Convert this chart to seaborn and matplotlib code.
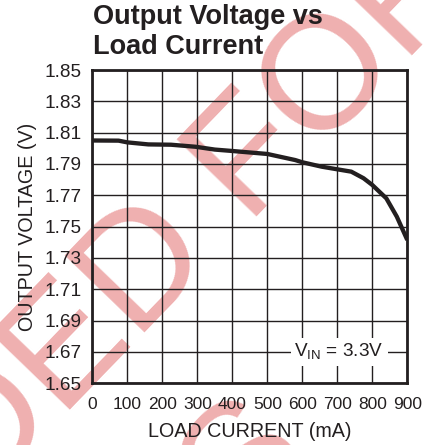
import numpy as np
import pandas as pd
import seaborn as sns
import matplotlib
matplotlib.use("Agg")
import matplotlib.pyplot as plt
from matplotlib.font_manager import FontProperties
from matplotlib.transforms import IdentityTransform

# ---------------- data ----------------
load_current_ma = [0, 75, 100, 160, 225, 295, 350, 400, 500, 580, 600,
                   655, 700, 740, 775, 800, 840, 870, 900]
output_voltage_v = [1.8050, 1.8049, 1.8038, 1.8025, 1.8023, 1.8010, 1.7992,
                    1.7983, 1.7964, 1.7925, 1.7911, 1.7883, 1.7866, 1.7851,
                    1.7809, 1.7766, 1.7681, 1.7564, 1.7415]
x_ticks = [0, 100, 200, 300, 400, 500, 600, 700, 800, 900]
y_ticks = [1.65, 1.67, 1.69, 1.71, 1.73, 1.75, 1.77, 1.79, 1.81, 1.83, 1.85]
title_lines = ["Output Voltage vs", "Load Current"]
x_label = "LOAD CURRENT (mA)"
y_label = "OUTPUT VOLTAGE (V)"
annotation = r"V$_{\mathregular{IN}}$ = 3.3V"
annotation_at = (705, 1.67)
watermark_lines = ["NOT RECOMMENDED FOR", "NEW DESIGNS"]

INK = "#231f20"
PINK = "#efb0b0"

sns.set_theme(style="white")
plt.rcParams["font.family"] = ["Liberation Sans", "DejaVu Sans"]
plt.rcParams["mathtext.fontset"] = "custom"
plt.rcParams["mathtext.rm"] = "Liberation Sans"
plt.rcParams["text.color"] = INK

W, H = 431, 445
fig = plt.figure(figsize=(W / 100, H / 100), dpi=100, facecolor="white")
ax = fig.add_axes([92.3 / W, 1 - 383.3 / H, 315 / W, 313.3 / H])
ax.set_facecolor("none")

df = pd.DataFrame({"current": load_current_ma, "voltage": output_voltage_v})
sns.lineplot(data=df, x="current", y="voltage", ax=ax, color=INK,
             linewidth=3.1, zorder=5, solid_capstyle="butt")

ax.set_xlim(0, 900)
ax.set_ylim(1.65, 1.85)
ax.set_xticks(x_ticks)
ax.set_yticks(y_ticks)
ax.set_yticklabels([f"{v:.2f}" for v in y_ticks])
ax.grid(True, color=INK, linewidth=1.0)
ax.set_axisbelow(True)
ax.tick_params(axis="both", length=0, colors=INK)
ax.tick_params(axis="y", labelsize=13.7, pad=8)
ax.tick_params(axis="x", labelsize=12.5, pad=10)
for s in ax.spines.values():
    s.set_visible(True)
    s.set_color(INK)
    s.set_linewidth(2.0)
    s.set_zorder(6)

ax.set_xlabel(x_label, fontsize=14.2, labelpad=7, color=INK)
ax.set_ylabel(y_label, fontsize=14.2, labelpad=5, color=INK)

ax.text(annotation_at[0], annotation_at[1], annotation, ha="center",
        va="center", fontsize=13.7, color=INK, zorder=4,
        bbox=dict(boxstyle="square,pad=0.2", fc="white", ec="none"))

fig.text(93.3 / W, 1 - 23.5 / H, title_lines[0], ha="left", va="baseline",
         fontsize=19.5, fontweight="bold", color=INK)
fig.text(93.3 / W, 1 - 53.5 / H, title_lines[1], ha="left", va="baseline",
         fontsize=19.5, fontweight="bold", color=INK)

# ---------------- watermark (behind everything) ----------------
angle = 46.0
wm_size = 116
wm_prop = FontProperties(family="Liberation Sans", size=wm_size)
renderer = fig.canvas.get_renderer()


def tw(s):
    return renderer.get_text_width_height_descent(s, wm_prop, ismath=False)[0]


w1 = tw(watermark_lines[0])
w2 = tw(watermark_lines[1])
prefix = w1 - tw("FOR")
bx, by = np.cos(np.radians(angle)), np.sin(np.radians(angle))   # display dir
dx, dy = by, -bx                                                 # display "down"

# anchor: where the ink of "F" starts on line 1 (image pixels)
fx, fy = 248.0, H - 226.0
s1x, s1y = fx - prefix * bx, fy - prefix * by
line_gap = 210.0
shift = (w1 - w2) / 2.0
s2x = s1x + shift * bx + line_gap * dx
s2y = s1y + shift * by + line_gap * dy
for (sx, sy), txt in zip([(s1x, s1y), (s2x, s2y)], watermark_lines):
    fig.text(sx, sy, txt, transform=IdentityTransform(),
             fontproperties=wm_prop, color=PINK, rotation=angle,
             rotation_mode="anchor", ha="left", va="baseline", zorder=-10)

fig.savefig("out.png", dpi=100, facecolor="white")
